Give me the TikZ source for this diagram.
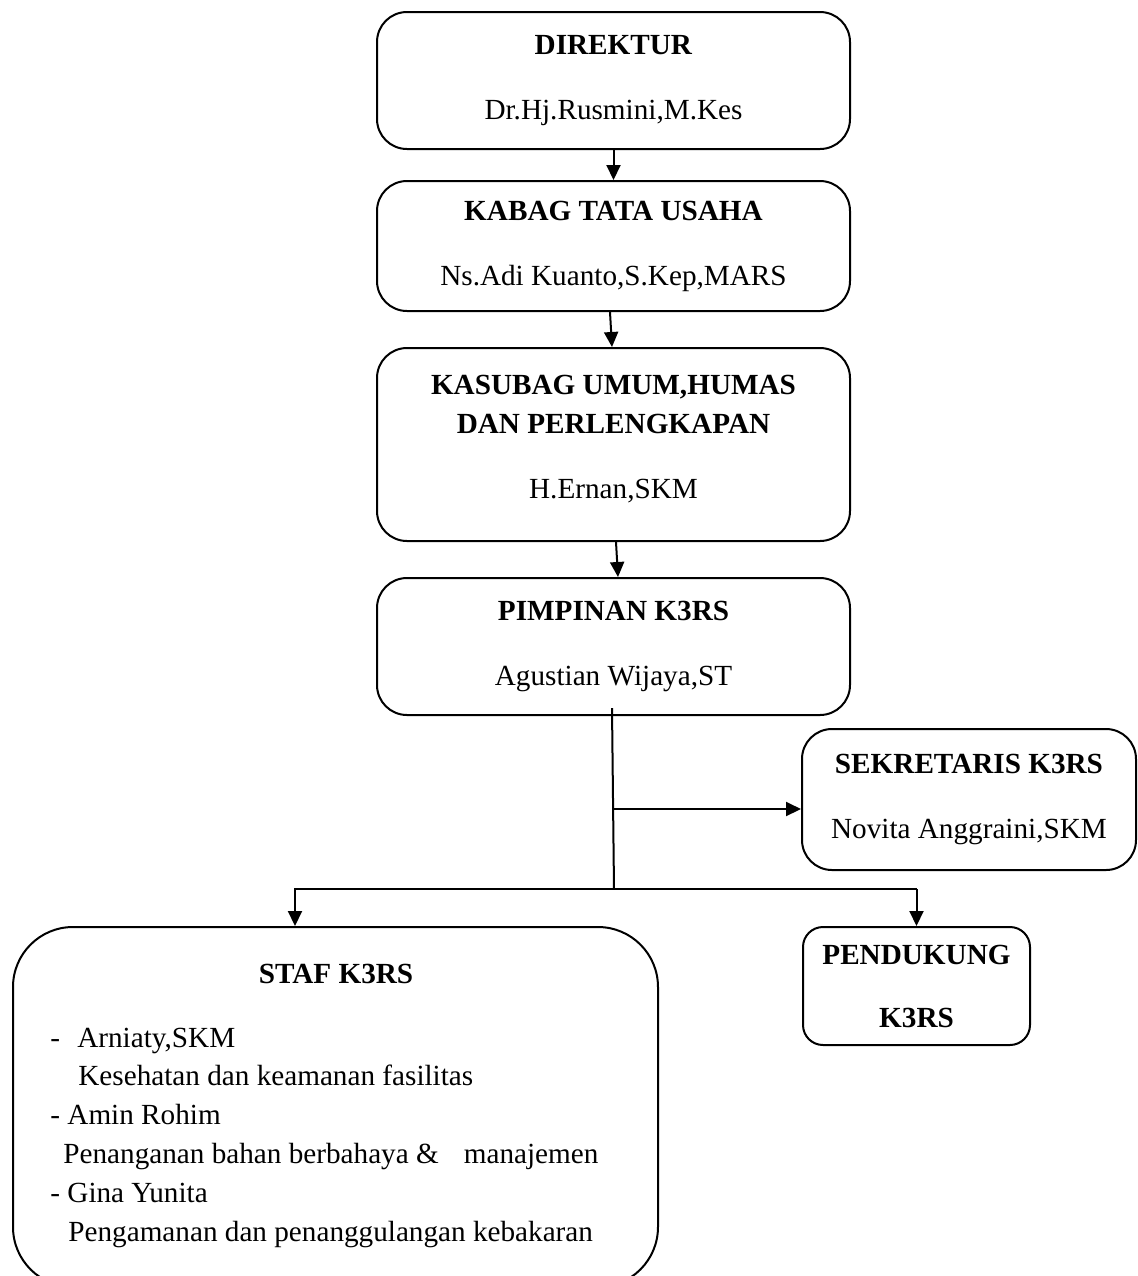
\documentclass[tikz,border=0pt]{standalone}
\usepackage{fontspec}
\setmainfont{Liberation Serif}
\usepackage{tikz}
\usetikzlibrary{arrows.meta,positioning,calc}

\begin{document}
\begin{tikzpicture}[x=0.5pt,y=-0.5pt,
  font=\fontsize{14.6}{17.5}\selectfont,
  box/.style={draw,line width=1pt,rounded corners=15pt,align=center,inner sep=0pt},
  arr/.style={line width=1pt,-{Triangle[length=7.5pt,width=7pt]}},
  link/.style={line width=1pt}]
\useasboundingbox (0,0) rectangle (1138,1276);
\clip (0,0) rectangle (1138,1276);

% Chain of heads
\node[box,minimum width=236.5pt,minimum height=68.5pt] (dir) at (613.5,80.5)
  {\textbf{DIREKTUR}\\[15pt]Dr.Hj.Rusmini,M.Kes};
\node[box,minimum width=236.5pt,minimum height=65pt] (kabag) at (613.5,246)
  {\textbf{KABAG TATA USAHA}\\[15pt]Ns.Adi Kuanto,S.Kep,MARS};
\node[box,minimum width=236.5pt,minimum height=96.5pt,text depth=7.5pt] (kasubag) at (613.5,444.5)
  {\textbf{KASUBAG UMUM,HUMAS}\\[2pt]\textbf{DAN PERLENGKAPAN}\\[15pt]H.Ernan,SKM};
\node[box,minimum width=236.5pt,minimum height=68.5pt] (pimpinan) at (613.5,646.5)
  {\textbf{PIMPINAN K3RS}\\[15pt]Agustian Wijaya,ST};

% Side and lower boxes
\node[box,minimum width=167pt,minimum height=70.5pt] (sekretaris) at (969,799.5)
  {\textbf{SEKRETARIS K3RS}\\[15pt]Novita Anggraini,SKM};
\node[box,rounded corners=10pt,minimum width=113.5pt,minimum height=59pt] (pendukung) at (916.5,986)
  {\textbf{PENDUKUNG}\\[14pt]\textbf{K3RS}};
\node[box,rounded corners=30pt,minimum width=322.5pt,minimum height=180pt] (staf) at (335.5,1107) {};
\node[anchor=base,inner sep=0pt] (staftitle) at (336,983) {\textbf{STAF K3RS}};
\foreach \i/\xx/\txt in {0/50/{-\hspace{8.6pt}Arniaty,SKM},
                         1/78/{Kesehatan dan keamanan fasilitas},
                         2/50/{- Amin Rohim},
                         3/63/{Penanganan bahan berbahaya \&\hspace{12.5pt}manajemen},
                         4/50/{- Gina Yunita},
                         5/68/{Pengamanan dan penanggulangan kebakaran}}
  \node[anchor=base west,inner sep=0pt] (staf-\i) at (\xx,1047+38.8*\i) {\txt};

% Arrows down the chain
\draw[arr] (dir.south) -- (kabag.north);
\draw[arr] ([xshift=-1.75pt]kabag.south) -- ([xshift=-0.75pt]kasubag.north);
\draw[arr] ([xshift=1.25pt]kasubag.south) -- ([xshift=2.25pt]pimpinan.north);

% Branches
\coordinate (pimtail) at ([xshift=-0.75pt,yshift=4pt]pimpinan.south);
\coordinate (bus) at (614,889);
\coordinate (tosek) at (613,809);
\coordinate (busl) at (295,889);
\coordinate (busr) at (916.5,889);
\draw[link] (pimtail) -- (bus);
\draw[arr] (tosek) -- (tosek -| sekretaris.west);
\draw[arr] (busr) -- (busl) -- (busl |- staf.north);
\draw[arr] (busr) -- (pendukung.north);
\end{tikzpicture}
\end{document}
